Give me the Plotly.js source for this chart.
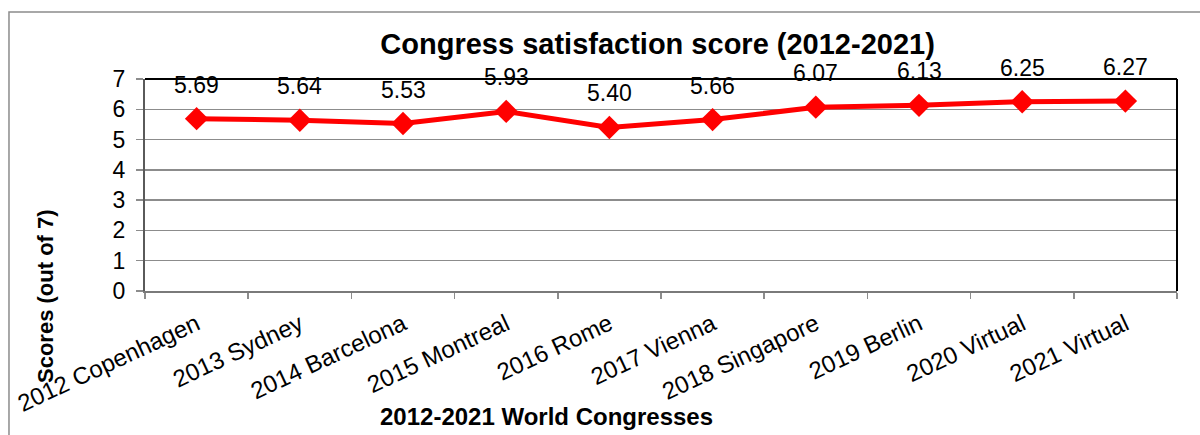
<!DOCTYPE html>
<html>
<head>
<meta charset="utf-8">
<script src="https://cdn.plot.ly/plotly-3.0.1.min.js"></script>
<style>
  html, body { margin: 0; padding: 0; background: #fff; }
  #chart { width: 1200px; height: 435px; }
</style>
</head>
<body>
<div id="chart"></div>
<script>
// Congress satisfaction scores, one per World Congress
const congresses = [
  '2012 Copenhagen', '2013 Sydney', '2014 Barcelona', '2015 Montreal', '2016 Rome',
  '2017 Vienna', '2018 Singapore', '2019 Berlin', '2020 Virtual', '2021 Virtual'
];
const scores = [5.69, 5.64, 5.53, 5.93, 5.40, 5.66, 6.07, 6.13, 6.25, 6.27];
const yTicks = [0, 1, 2, 3, 4, 5, 6, 7];

const FONT = 'Liberation Sans, Arial, sans-serif';

const trace = {
  x: congresses,
  y: scores,
  type: 'scatter',
  mode: 'lines+markers',
  line: { color: '#ff0000', width: 5 },
  marker: { symbol: 'diamond', size: 18, color: '#ff0000' },
  hoverinfo: 'x+y'
};

// value labels above each point
const valueLabels = congresses.map((c, i) => ({
  x: c, y: scores[i], xref: 'x', yref: 'y',
  text: scores[i].toFixed(2),
  showarrow: false, xanchor: 'center', yanchor: 'middle', yshift: 34,
  font: { family: FONT, size: 23, color: '#000' }
}));

const layout = {
  width: 1200,
  height: 435,
  margin: { l: 145, r: 23, t: 79, b: 144 },
  paper_bgcolor: '#fff',
  plot_bgcolor: '#fff',
  showlegend: false,
  title: {
    text: 'Congress satisfaction score (2012-2021)',
    font: { family: FONT, size: 29, color: '#000', weight: 'bold' },
    xref: 'container', yref: 'container',
    x: 0.548, xanchor: 'center', y: 0.899, yanchor: 'middle'
  },
  xaxis: {
    type: 'category',
    range: [-0.5, 9.5],
    tickson: 'boundaries',
    ticks: 'outside', ticklen: 6, tickwidth: 1.5, tickcolor: '#8c8c8c',
    showline: true, linecolor: '#7a7a7a', linewidth: 2,
    showgrid: false, zeroline: false,
    tickangle: -25,
    ticklabelstandoff: 8,
    tickfont: { family: FONT, size: 24, color: '#000' },
    fixedrange: true
  },
  yaxis: {
    range: [0, 7],
    tickvals: yTicks,
    ticks: 'outside', ticklen: 7, tickwidth: 1.5, tickcolor: '#8c8c8c',
    ticklabelstandoff: 6,
    showline: true, linecolor: '#5a5a5a', linewidth: 2,
    showgrid: true, gridcolor: '#8c8c8c', gridwidth: 1.5,
    zeroline: false,
    tickfont: { family: FONT, size: 23, color: '#000' },
    fixedrange: true
  },
  shapes: [
    // outer chart frame
    { type: 'rect', xref: 'paper', yref: 'paper',
      x0: -0.1318, x1: 1.03, y0: -0.72, y1: 1.316,
      line: { color: '#8c8c8c', width: 1.5 }, fillcolor: 'rgba(0,0,0,0)', layer: 'below' },
    // plot area border: top and right edges
    { type: 'line', xref: 'paper', yref: 'paper', x0: 0, x1: 1, y0: 1, y1: 1,
      line: { color: '#000', width: 2 }, layer: 'above' },
    { type: 'line', xref: 'paper', yref: 'paper', x0: 1, x1: 1, y0: 0, y1: 1,
      line: { color: '#000', width: 2 }, layer: 'above' }
  ],
  annotations: valueLabels.concat([
    { text: 'Scores (out of 7)', xref: 'paper', yref: 'paper',
      x: -0.0969, y: -0.0236, xanchor: 'center', yanchor: 'middle',
      textangle: -90, showarrow: false,
      font: { family: FONT, size: 22, color: '#000', weight: 'bold' } },
    { text: '2012-2021 World Congresses', xref: 'paper', yref: 'paper',
      x: 0.3886, y: -0.594, xanchor: 'center', yanchor: 'middle',
      showarrow: false,
      font: { family: FONT, size: 24, color: '#000', weight: 'bold' } }
  ])
};

Plotly.newPlot('chart', [trace], layout, { displayModeBar: false, staticPlot: true });
</script>
</body>
</html>
